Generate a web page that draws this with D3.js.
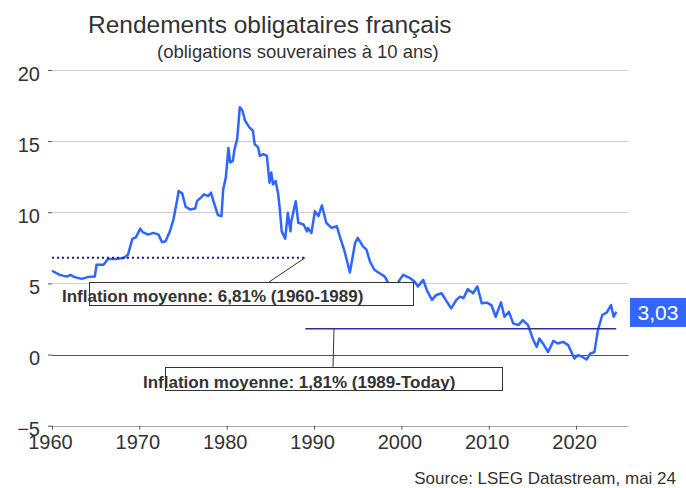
<!DOCTYPE html>
<html>
<head>
<meta charset="utf-8">
<script src="https://cdn.jsdelivr.net/npm/d3@7"></script>
<style>
  body { margin: 0; background: #fff; }
  text { font-family: "Liberation Sans", Arial, sans-serif; fill: #333; }
</style>
</head>
<body>
<div id="chart"></div>
<script>
// Data (year as decimal, 10y yield in %)
// ==============================
var years = [1960.0, 1960.9, 1961.7, 1962.1, 1962.6, 1963.4, 1964.2, 1964.9, 1965.1, 1965.9,
  1966.4, 1967.2, 1968.2, 1968.7, 1969.2, 1969.6, 1970.1, 1970.4, 1971.0, 1971.6,
  1972.2, 1972.6, 1973.0, 1973.5, 1973.9, 1974.3, 1974.5, 1974.9, 1975.3, 1975.8,
  1976.4, 1976.6, 1977.1, 1977.4, 1977.9, 1978.2, 1978.5, 1979.0, 1979.4, 1979.6,
  1979.9, 1980.2, 1980.4, 1980.7, 1980.9, 1981.2, 1981.5, 1981.8, 1982.1, 1982.6,
  1983.0, 1983.2, 1983.6, 1983.8, 1984.2, 1984.6, 1984.9, 1985.1, 1985.3, 1985.6,
  1985.9, 1986.1, 1986.3, 1986.7, 1987.0, 1987.3, 1987.4, 1987.9, 1988.2, 1988.8,
  1989.2, 1989.3, 1989.7, 1990.1, 1990.5, 1990.9, 1991.4, 1992.0, 1992.6, 1993.0,
  1993.5, 1994.1, 1994.7, 1995.0, 1995.6, 1996.0, 1996.4, 1996.9, 1997.5, 1998.1,
  1998.5, 1999.0, 1999.8, 2000.2, 2001.0, 2001.5, 2001.9, 2002.5, 2002.9, 2003.5,
  2004.0, 2004.6, 2005.2, 2005.7, 2006.3, 2006.7, 2007.1, 2007.6, 2008.2, 2008.7,
  2009.2, 2009.8, 2010.3, 2010.8, 2011.4, 2011.8, 2012.3, 2012.8, 2013.4, 2013.9,
  2014.5, 2015.1, 2015.5, 2015.8, 2016.2, 2016.8, 2017.4, 2017.9, 2018.5, 2019.1,
  2019.8, 2020.2, 2020.6, 2021.2, 2021.6, 2022.1, 2022.5, 2023.0, 2023.5, 2024.0,
  2024.3, 2024.6];

var yields = [5.89, 5.6, 5.48, 5.6, 5.44, 5.32, 5.46, 5.48, 6.31, 6.31,
  6.71, 6.71, 6.78, 7.02, 8.13, 8.24, 8.85, 8.6, 8.43, 8.55,
  8.43, 7.89, 7.96, 8.66, 9.49, 10.78, 11.49, 11.33, 10.39, 10.2,
  10.27, 10.78, 11.07, 11.26, 11.14, 11.38, 10.74, 9.8, 9.73, 11.61,
  12.44, 14.51, 13.5, 13.61, 14.44, 15.14, 17.39, 17.15, 16.44, 15.97,
  15.73, 14.79, 14.56, 13.96, 14.08, 13.96, 12.08, 12.79, 11.96, 12.2,
  11.26, 10.08, 8.66, 8.15, 9.96, 8.66, 9.37, 10.78, 9.26, 9.14,
  8.66, 8.9, 8.55, 10.08, 9.73, 10.48, 9.26, 8.9, 9.02, 8.2,
  7.25, 5.77, 7.84, 8.2, 7.6, 7.37, 6.54, 5.96, 5.72, 5.48,
  5.02, 4.3, 5.25, 5.6, 5.37, 5.13, 4.78, 5.25, 4.54, 3.84,
  4.19, 4.31, 3.72, 3.25, 3.84, 4.07, 3.96, 4.6, 4.31, 4.78,
  3.6, 3.65, 3.48, 2.66, 3.67, 2.66, 3.01, 2.19, 2.07, 2.42,
  2.07, 1.01, 0.54, 1.13, 0.78, 0.18, 0.96, 0.78, 0.89, 0.66,
  -0.28, -0.05, -0.12, -0.35, 0.07, 0.18, 1.72, 2.78, 2.94, 3.48,
  2.66, 3.01];

var yTicks = [-5, 0, 5, 10, 15, 20];
var xTicks = [1960, 1970, 1980, 1990, 2000, 2010, 2020];

var lastValue = 3.03;
var lastLabel = "3,03";

// Average inflation bands: [start, end, level, label]
var inflationPeriods = [
  { start: 1960, end: 1989, level: 6.81, label: "Inflation moyenne: 6,81% (1960-1989)" },
  { start: 1989, end: 2024.6, level: 1.81, label: "Inflation moyenne: 1,81% (1989-Today)" }
];

var titleText = "Rendements obligataires français";
var subtitleText = "(obligations souveraines à 10 ans)";
var sourceText = "Source: LSEG Datastream, mai 24";

// SVG area
// ==============================
var svgWidth = 686;
var svgHeight = 488;

var svg = d3.select("#chart")
  .append("svg")
  .attr("width", svgWidth)
  .attr("height", svgHeight);

var xScale = d3.scaleLinear()
  .domain([1960, 2026])
  .range([52, 628.5]);

var yScale = d3.scaleLinear()
  .domain([-5, 20])
  .range([425.7, 70]);

// Gridlines
// ==============================
svg.append("g")
  .selectAll("line")
  .data(yTicks)
  .join("line")
  .attr("x1", xScale(1960))
  .attr("x2", xScale(2026))
  .attr("y1", d => Math.round(yScale(d)) + 0.5)
  .attr("y2", d => Math.round(yScale(d)) + 0.5)
  .attr("stroke", d => d === 0 ? "#555" : (d === -5 ? "#aaa" : "#cfcfcf"))
  .attr("stroke-width", 1.2);

// Axes
// ==============================
var yAxis = d3.axisLeft(yScale)
  .tickValues(yTicks)
  .tickSize(4)
  .tickPadding(8);

var yAxisG = svg.append("g")
  .attr("transform", `translate(${xScale(1960)}, 0)`)
  .call(yAxis);
yAxisG.select(".domain").remove();
yAxisG.selectAll(".tick line").attr("stroke", "#555");
yAxisG.selectAll(".tick text")
  .attr("dy", "0.5em")
  .style("font-size", "20px")
  .style("font-family", "'Liberation Sans', Arial, sans-serif")
  .attr("fill", "#333");

var xAxis = d3.axisBottom(xScale)
  .tickValues(xTicks)
  .tickFormat(d3.format("d"))
  .tickSize(4)
  .tickPadding(5);

var xAxisG = svg.append("g")
  .attr("transform", `translate(0, ${yScale(-5)})`)
  .call(xAxis);
xAxisG.select(".domain").remove();
xAxisG.selectAll(".tick line").attr("stroke", "#555");
xAxisG.selectAll(".tick text")
  .attr("dx", "-2")
  .style("font-size", "20px")
  .style("font-family", "'Liberation Sans', Arial, sans-serif")
  .attr("fill", "#333");

// Yield line
// ==============================
var series = years.map((y, i) => ({ year: y, value: yields[i] }));

var line = d3.line()
  .x(d => xScale(d.year))
  .y(d => yScale(d.value));

svg.append("path")
  .datum(series)
  .attr("fill", "none")
  .attr("stroke", "#2f66ff")
  .attr("stroke-width", 2.5)
  .attr("stroke-linejoin", "round")
  .attr("d", line);

// Inflation levels
// ==============================
var p1 = inflationPeriods[0];
var p2 = inflationPeriods[1];

svg.append("line")
  .attr("x1", xScale(p1.start))
  .attr("x2", xScale(p1.end))
  .attr("y1", yScale(p1.level))
  .attr("y2", yScale(p1.level))
  .attr("stroke", "#1c1c8a")
  .attr("stroke-width", 2)
  .attr("stroke-dasharray", "2,3");

svg.append("line")
  .attr("x1", xScale(p2.start))
  .attr("x2", xScale(p2.end))
  .attr("y1", yScale(p2.level))
  .attr("y2", yScale(p2.level))
  .attr("stroke", "#2e3192")
  .attr("stroke-width", 1.6);

// Annotation 1
svg.append("line")
  .attr("x1", xScale(p1.end))
  .attr("y1", yScale(p1.level))
  .attr("x2", 269)
  .attr("y2", 282)
  .attr("stroke", "#333")
  .attr("stroke-width", 1);

svg.append("rect")
  .attr("x", 89.5)
  .attr("y", 282.5)
  .attr("width", 324)
  .attr("height", 23)
  .attr("fill", "#fff")
  .attr("stroke", "#333")
  .attr("stroke-width", 1);

svg.append("text")
  .attr("x", 62)
  .attr("y", 301.5)
  .style("font-size", "17px")
  .style("font-weight", "bold")
  .text(p1.label);

// Annotation 2
svg.append("line")
  .attr("x1", 334)
  .attr("y1", yScale(p2.level))
  .attr("x2", 333)
  .attr("y2", 367)
  .attr("stroke", "#333")
  .attr("stroke-width", 1);

svg.append("rect")
  .attr("x", 165.5)
  .attr("y", 367.5)
  .attr("width", 337)
  .attr("height", 23)
  .attr("fill", "#fff")
  .attr("stroke", "#333")
  .attr("stroke-width", 1);

svg.append("text")
  .attr("x", 143)
  .attr("y", 387.5)
  .style("font-size", "17px")
  .style("font-weight", "bold")
  .text(p2.label);

// Last value label
// ==============================
svg.append("rect")
  .attr("x", 630)
  .attr("y", yScale(lastValue) - 13.5)
  .attr("width", 56)
  .attr("height", 29)
  .attr("fill", "#3366ff");

svg.append("text")
  .attr("x", 658)
  .attr("y", yScale(lastValue) + 8.5)
  .attr("text-anchor", "middle")
  .style("font-size", "21px")
  .style("fill", "#fff")
  .text(lastLabel);

// Titles
// ==============================
svg.append("text")
  .attr("x", 88)
  .attr("y", 33)
  .style("font-size", "24.5px")
  .text(titleText);

svg.append("text")
  .attr("x", 157)
  .attr("y", 58)
  .style("font-size", "18.5px")
  .text(subtitleText);

svg.append("text")
  .attr("x", 676)
  .attr("y", 484)
  .attr("text-anchor", "end")
  .style("font-size", "17px")
  .text(sourceText);
</script>
</body>
</html>
